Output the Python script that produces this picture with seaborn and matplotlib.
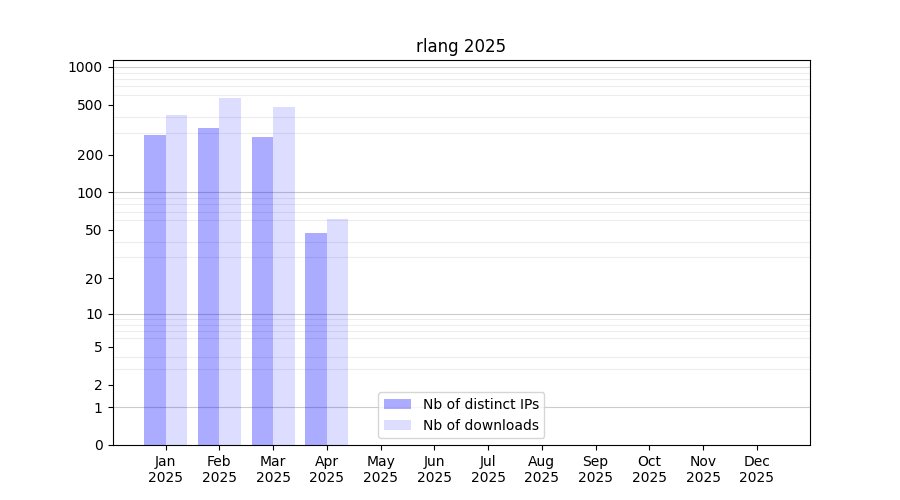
import numpy as np
import pandas as pd
import matplotlib
matplotlib.use("Agg")
import matplotlib.pyplot as plt
import seaborn as sns
from matplotlib.ticker import FixedLocator, NullFormatter

# datos
months = ["Jan", "Feb", "Mar", "Apr", "May", "Jun", "Jul", "Aug", "Sep", "Oct", "Nov", "Dec"]
data_months = ["Jan", "Feb", "Mar", "Apr"]
distinct_ips = [287, 328, 278, 47]
downloads = [416, 567, 481, 61]
year = "2025"
package = "rlang"

df = pd.DataFrame({
    "month": data_months * 2,
    "value": distinct_ips + downloads,
    "serie": ["Nb of distinct IPs"] * len(data_months) + ["Nb of downloads"] * len(data_months),
})

fig, ax = plt.subplots(figsize=(9, 5), dpi=100)
sns.barplot(data=df, x="month", y="value", hue="serie", order=months,
            palette=["blue", "blue"], linewidth=0, saturation=1, ax=ax)

# transparencia por serie
alphas = [0.33, 0.135]
for cont, a in zip(ax.containers, alphas):
    for p in cont:
        p.set_alpha(a)

# escala log(1+x)
ax.set_yscale("function", functions=(lambda v: np.log10(1 + np.clip(v, 0, None)),
                                     lambda v: 10 ** v - 1))
ymax = max(max(distinct_ips), max(downloads)) * 2
ax.set_ylim(0, ymax)
ax.set_xlim(-0.99, len(months) - 0.01)

yticks = [0, 1, 2, 5, 10, 20, 50, 100, 200, 500, 1000]
ax.yaxis.set_major_locator(FixedLocator(yticks))
ax.set_yticklabels([str(t) for t in yticks])
minor = [m * 10 ** e for e in range(3) for m in range(2, 10)]
ax.yaxis.set_minor_locator(FixedLocator(minor))
ax.yaxis.set_minor_formatter(NullFormatter())
ax.tick_params(axis="y", which="minor", length=0)
ax.grid(False)
ax.grid(axis="y", which="minor", color="black", alpha=0.07, linewidth=0.8)
for d in [1, 10, 100, 1000]:
    ax.axhline(d, color="black", alpha=0.2, linewidth=0.8, zorder=0.5)
ax.set_axisbelow(True)

ax.set_xticks(range(len(months)))
ax.set_xticklabels([f"{m}\n{year}" for m in months])
ax.set_xlabel("")
ax.set_ylabel("")
ax.set_title(f"{package} {year}")

h, l = ax.get_legend_handles_labels()
for hh, a in zip(h, alphas):
    hh.set_alpha(a)
ax.legend(h, l, loc="lower center")

plt.savefig("out.png", dpi=100)
